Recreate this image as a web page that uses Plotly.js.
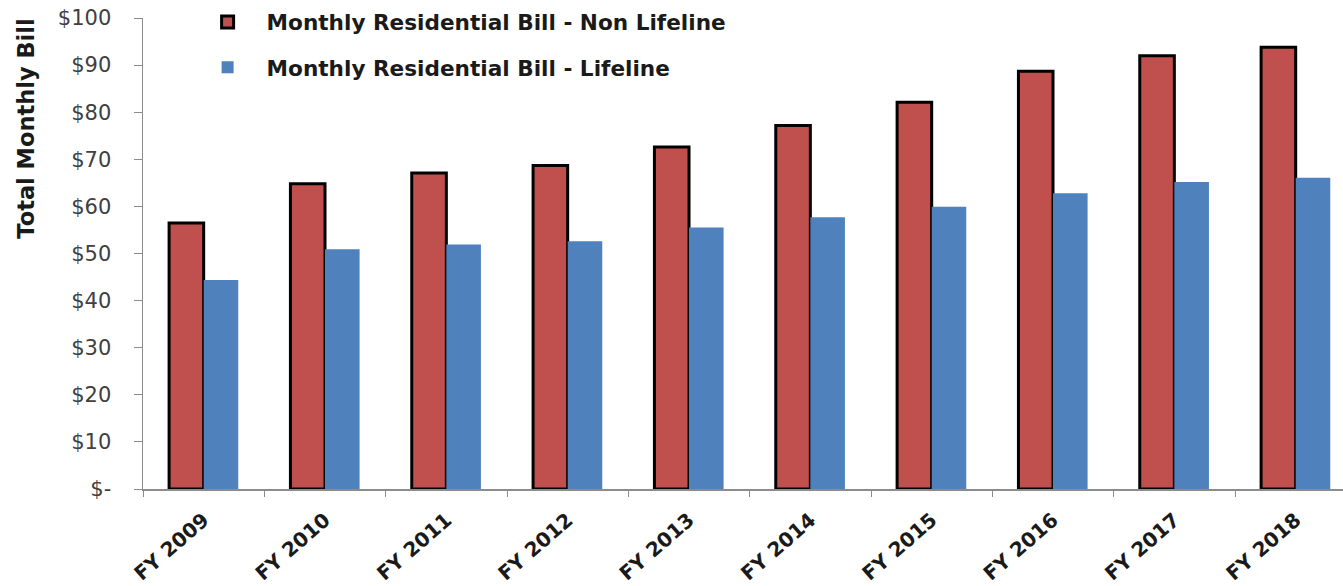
<!DOCTYPE html>
<html>
<head>
<meta charset="utf-8">
<script src="https://cdn.plot.ly/plotly-3.0.1.min.js"></script>
<style>html,body{margin:0;padding:0;background:#fff;}#chart{width:1343px;height:586px;}</style>
</head>
<body>
<div id="chart"></div>
<script>
const categories = ["FY 2009","FY 2010","FY 2011","FY 2012","FY 2013","FY 2014","FY 2015","FY 2016","FY 2017","FY 2018"];
const nonLifeline = [56.5, 64.8, 67.1, 68.7, 72.6, 77.2, 82.1, 88.7, 92.0, 93.8];
const lifeline = [44.4, 50.9, 51.9, 52.6, 55.5, 57.7, 59.9, 62.8, 65.2, 66.1];
const yTickVals = [0,10,20,30,40,50,60,70,80,90,100];
const yTickText = ["$-","$10","$20","$30","$40","$50","$60","$70","$80","$90","$100"];
const seriesNames = ["Monthly Residential Bill - Non Lifeline","Monthly Residential Bill - Lifeline"];
const yTitle = "Total Monthly Bill";

const FONT = "'DejaVu Sans', 'Open Sans', sans-serif";

const traces = [
  {type:'bar', x:categories, y:nonLifeline, name:seriesNames[0], legendgroup:'a',
   marker:{color:'#C0504D', line:{color:'#000000', width:3}}},
  {type:'bar', x:categories, y:lifeline, name:seriesNames[1], legendgroup:'b',
   marker:{color:'#4F81BD', line:{width:0}}}
];

const layout = {
  width:1343, height:586,
  margin:{l:143, r:0, t:18, b:97},
  paper_bgcolor:'#ffffff', plot_bgcolor:'#ffffff',
  barmode:'group', bargap:0.43, bargroupgap:0,
  showlegend:true,
  legend:{x:0.038, y:1.035, xanchor:'left', yanchor:'top', bgcolor:'rgba(0,0,0,0)',
    font:{family:FONT, size:21.6, color:'#1a1a1a', weight:'bold'}, itemwidth:68,
    traceorder:'grouped', tracegroupgap:14},
  xaxis:{type:'category', range:[-0.5, 9.39], showline:true, linecolor:'#8c8c8c', linewidth:1.5,
    ticks:'outside', tickson:'boundaries', ticklen:6, tickcolor:'#8c8c8c', ticklabelstandoff:10,
    tickangle:-41, tickfont:{family:FONT, size:20, color:'#1a1a1a', weight:'bold'},
    showgrid:false, zeroline:false, fixedrange:true},
  yaxis:{range:[0,100], tickvals:yTickVals, ticktext:yTickText, showline:true, linecolor:'#8c8c8c', linewidth:1.5,
    ticks:'outside', ticklen:8, tickcolor:'#8c8c8c', ticklabelstandoff:18,
    tickfont:{family:FONT, size:21, color:'#404040'},
    showgrid:false, zeroline:false},
  annotations:[{text:yTitle, xref:'paper', yref:'paper', x:-0.0975, y:0.765, xanchor:'center', yanchor:'middle',
    textangle:-90, showarrow:false, font:{family:FONT, size:22.5, color:'#1a1a1a', weight:'bold'}}]
};

Plotly.newPlot('chart', traces, layout, {displayModeBar:false, staticPlot:true});
</script>
</body>
</html>
